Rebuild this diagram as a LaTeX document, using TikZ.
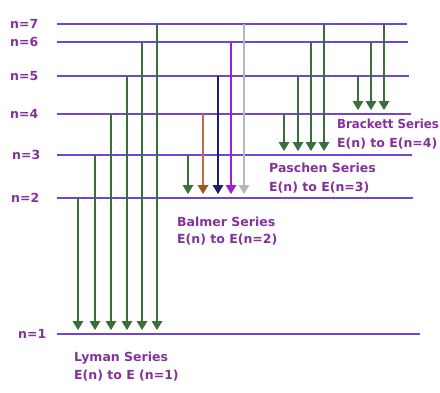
\documentclass[tikz,border=0pt]{standalone}
\usepackage{fontspec}
\newfontfamily\labfont{DejaVu Sans}
\usetikzlibrary{arrows.meta}

\definecolor{levelcol}{HTML}{7045D8}
\definecolor{labcol}{HTML}{84329A}
\definecolor{grn}{HTML}{3C6E3C}
\definecolor{redshaft}{HTML}{C86450}
\definecolor{redtip}{HTML}{9A5A1E}
\definecolor{navy}{HTML}{1E1E6E}
\definecolor{violet}{HTML}{A020D0}
\definecolor{lgray}{HTML}{B8B8B8}

\tikzset{
  level/.style={draw=levelcol, line width=2pt},
  nlab/.style={anchor=west, inner sep=0pt, text=labcol,
    font=\labfont\bfseries\fontsize{12.5}{14}\selectfont},
  serieslab/.style={anchor=base west, inner sep=0pt, text=labcol,
    font=\labfont\bfseries\fontsize{12.5}{14}\selectfont},
  trans/.style 2 args={draw=#1, line width=1.8pt, shorten >=4pt,
    -{Triangle[width=11pt,length=9pt,color=#2,fill=#2,line width=0pt]}},
}

\begin{document}
\begin{tikzpicture}[x=1pt,y=-1pt]
  \fill[white] (0,0) rectangle (440,392);
  \useasboundingbox (0,0) rectangle (440,392);

  % energy levels: n / height / right end / label x
  \foreach \n/\y/\xe/\xl in {7/24/407/10, 6/42/408/10, 5/76/409/10,
      4/114/411/10, 3/155/412/12, 2/198/413/11, 1/334/420/18} {
    \coordinate (L\n) at (0,\y);
    \draw[level] (57,\y) -- (\xe,\y);
    \node[nlab] (lab\n) at (\xl,\y) {n=\n};
  }

  % Lyman series: down to n=1
  \foreach \x/\f in {78/2, 95/3, 111/4, 127/5, 142/6, 157/7}
    \draw[trans={grn}{grn}] (\x,0 |- L\f) -- (\x,0 |- L1);

  % Balmer series: down to n=2
  \draw[trans={grn}{grn}]           (188,0 |- L3) -- (188,0 |- L2);
  \draw[trans={redshaft}{redtip}]   (203,0 |- L4) -- (203,0 |- L2);
  \draw[trans={navy}{navy}]         (218,0 |- L5) -- (218,0 |- L2);
  \draw[trans={violet}{violet}]     (231,0 |- L6) -- (231,0 |- L2);
  \draw[trans={lgray}{lgray}]       (244,0 |- L7) -- (244,0 |- L2);

  % Paschen series: down to n=3
  \foreach \x/\f in {284/4, 298/5, 311/6, 324/7}
    \draw[trans={grn}{grn}] (\x,0 |- L\f) -- (\x,0 |- L3);

  % Brackett series: down to n=4
  \foreach \x/\f in {358/5, 371/6, 384/7}
    \draw[trans={grn}{grn}] (\x,0 |- L\f) -- (\x,0 |- L4);

  % series captions
  \node[serieslab] (lymanA)    at (74,361.5)  {Lyman Series};
  \node[serieslab] (lymanB)    at (74,379.5)  {E(n) to E (n=1)};
  \node[serieslab] (balmerA)   at (177,226.5) {Balmer Series};
  \node[serieslab] (balmerB)   at (177,243)   {E(n) to E(n=2)};
  \node[serieslab] (paschenA)  at (269,172.5) {Paschen Series};
  \node[serieslab] (paschenB)  at (269,191.5) {E(n) to E(n=3)};
  \node[serieslab] (brackettA) at (337,128.5) {\scalebox{0.94}[1]{Brackett Series}};
  \node[serieslab] (brackettB) at (337,147.5) {E(n) to E(n=4)};
\end{tikzpicture}
\end{document}
